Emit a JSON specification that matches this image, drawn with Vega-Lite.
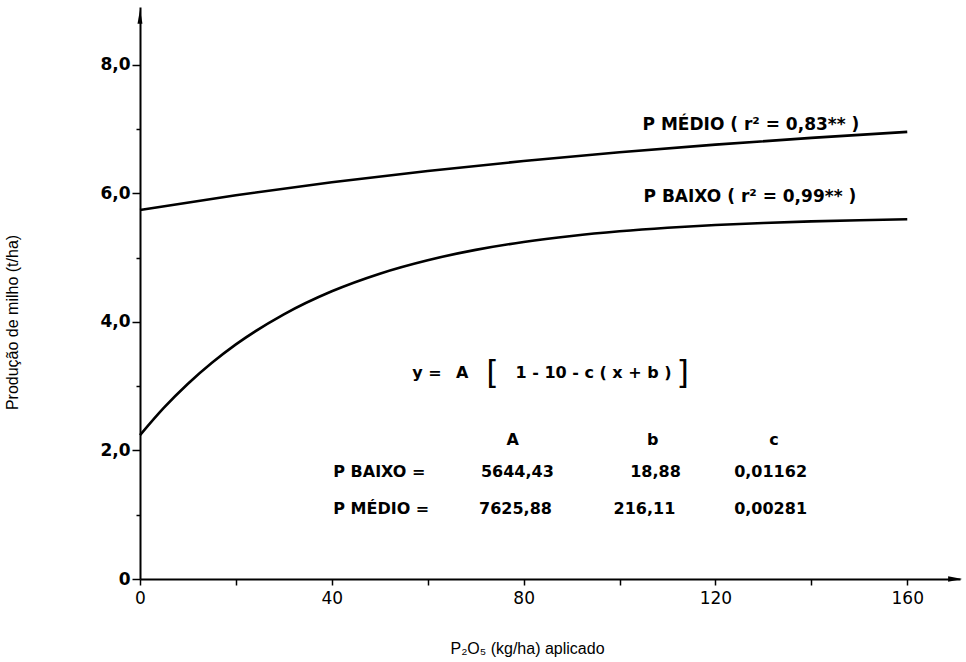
{
  "$schema": "https://vega.github.io/schema/vega-lite/v6.json",
  "autosize": "none",
  "width": 820,
  "height": 572,
  "padding": {"left": 140, "top": 7, "right": 6, "bottom": 83},
  "background": "white",
  "config": {"view": {"stroke": null}, "font": "DejaVu Sans"},
  "datasets": {
    "curves": [
      {"serie": "P BAIXO", "x": 0, "y": 2.238},
      {"serie": "P BAIXO", "x": 5, "y": 2.665},
      {"serie": "P BAIXO", "x": 10, "y": 3.038},
      {"serie": "P BAIXO", "x": 15, "y": 3.364},
      {"serie": "P BAIXO", "x": 20, "y": 3.650},
      {"serie": "P BAIXO", "x": 30, "y": 4.118},
      {"serie": "P BAIXO", "x": 40, "y": 4.477},
      {"serie": "P BAIXO", "x": 50, "y": 4.751},
      {"serie": "P BAIXO", "x": 60, "y": 4.960},
      {"serie": "P BAIXO", "x": 70, "y": 5.121},
      {"serie": "P BAIXO", "x": 80, "y": 5.244},
      {"serie": "P BAIXO", "x": 90, "y": 5.338},
      {"serie": "P BAIXO", "x": 100, "y": 5.410},
      {"serie": "P BAIXO", "x": 110, "y": 5.465},
      {"serie": "P BAIXO", "x": 120, "y": 5.507},
      {"serie": "P BAIXO", "x": 130, "y": 5.539},
      {"serie": "P BAIXO", "x": 140, "y": 5.564},
      {"serie": "P BAIXO", "x": 150, "y": 5.583},
      {"serie": "P BAIXO", "x": 160, "y": 5.597},
      {"serie": "P MÉDIO", "x": 0, "y": 5.742},
      {"serie": "P MÉDIO", "x": 20, "y": 5.971},
      {"serie": "P MÉDIO", "x": 40, "y": 6.172},
      {"serie": "P MÉDIO", "x": 60, "y": 6.348},
      {"serie": "P MÉDIO", "x": 80, "y": 6.503},
      {"serie": "P MÉDIO", "x": 100, "y": 6.639},
      {"serie": "P MÉDIO", "x": 120, "y": 6.759},
      {"serie": "P MÉDIO", "x": 140, "y": 6.864},
      {"serie": "P MÉDIO", "x": 160, "y": 6.957}
    ],
    "arrows": [
      {"x": 170, "y": 0, "dir": "right"},
      {"x": 0, "y": 8.75, "dir": "up"}
    ],
    "curveLabels": [
      {"x": 104.8, "y": 7.06, "t": "P  MÉDIO ( r² = 0,83** )"},
      {"x": 105.0, "y": 5.94, "t": "P  BAIXO ( r² = 0,99** )"}
    ],
    "leftText": [
      {"x": 56.8, "y": 3.21, "t": "y ="},
      {"x": 78.3, "y": 3.21, "t": "1 - 10 - c ( x + b )"},
      {"x": 40.3, "y": 1.66, "t": "P  BAIXO ="},
      {"x": 40.3, "y": 1.09, "t": "P  MÉDIO ="}
    ],
    "centerText": [
      {"x": 67.2, "y": 3.21, "t": "A"},
      {"x": 77.7, "y": 2.16, "t": "A"},
      {"x": 106.9, "y": 2.16, "t": "b"},
      {"x": 132.2, "y": 2.16, "t": "c"},
      {"x": 78.7, "y": 1.66, "t": "5644,43"},
      {"x": 107.5, "y": 1.66, "t": "18,88"},
      {"x": 131.5, "y": 1.66, "t": "0,01162"},
      {"x": 78.3, "y": 1.09, "t": "7625,88"},
      {"x": 105.2, "y": 1.09, "t": "216,11"},
      {"x": 131.5, "y": 1.09, "t": "0,00281"}
    ],
    "brackets": [
      {"x": 73.5, "y": 3.21, "t": "["},
      {"x": 113.2, "y": 3.21, "t": "]"}
    ]
  },
  "layer": [
    {
      "data": {"name": "curves"},
      "mark": {"type": "line", "interpolate": "monotone", "color": "black", "strokeWidth": 2.6},
      "encoding": {
        "x": {
          "field": "x", "type": "quantitative",
          "scale": {"domain": [0, 171], "nice": false, "zero": false},
          "axis": {
            "values": [0, 20, 40, 60, 80, 100, 120, 140, 160],
            "labelExpr": "datum.value % 40 == 0 ? datum.label : ''",
            "grid": false,
            "domainColor": "black", "domainWidth": 2,
            "tickColor": "black", "tickWidth": 1.5, "tickSize": 6,
            "labelFont": "DejaVu Sans", "labelFontSize": 17, "labelColor": "black",
            "labelPadding": 5, "labelFlush": false,
            "title": "P₂O₅ (kg/ha) aplicado",
            "titleFont": "Liberation Sans", "titleFontSize": 16, "titleFontWeight": "normal", "titleColor": "black",
            "titleX": 387, "titleY": 69, "titleBaseline": "middle", "titleAnchor": null, "titleAlign": "center"
          }
        },
        "y": {
          "field": "y", "type": "quantitative",
          "scale": {"domain": [0, 8.9], "nice": false, "zero": false},
          "axis": {
            "values": [0, 1, 2, 3, 4, 5, 6, 7, 8],
            "labelExpr": "datum.value == 0 ? '0' : (datum.value % 2 == 0 ? replace(format(datum.value, '.1f'), '.', ',') : '')",
            "grid": false,
            "domainColor": "black", "domainWidth": 2,
            "tickColor": "black", "tickWidth": 1.5,
            "tickSize": {"condition": {"test": "datum.value % 2 == 0", "value": 8}, "value": 4},
            "labelFont": "DejaVu Sans", "labelFontSize": 17, "labelFontWeight": "bold", "labelColor": "black",
            "labelPadding": 2, "labelFlush": false,
            "title": "Produção de milho (t/ha)",
            "titleFont": "Liberation Sans", "titleFontSize": 16, "titleFontWeight": "normal", "titleColor": "black",
            "titleX": -128, "titleY": 315, "titleAngle": -90, "titleBaseline": "middle", "titleAlign": "center", "titleAnchor": null
          }
        },
        "detail": {"field": "serie"}
      }
    },
    {
      "data": {"name": "arrows"},
      "mark": {"type": "point", "filled": true, "color": "black", "opacity": 1, "size": 200},
      "encoding": {
        "x": {"field": "x", "type": "quantitative"},
        "y": {"field": "y", "type": "quantitative"},
        "shape": {
          "field": "dir", "type": "nominal", "legend": null,
          "scale": {"domain": ["right", "up"], "range": ["M1,0L-1,-0.4L-1,0.4Z", "M0,-1L-0.35,1L0.35,1Z"]}
        }
      }
    },
    {
      "data": {"name": "curveLabels"},
      "mark": {"type": "text", "align": "left", "baseline": "middle", "font": "DejaVu Sans", "fontSize": 17, "fontWeight": "bold", "color": "black"},
      "encoding": {
        "x": {"field": "x", "type": "quantitative"},
        "y": {"field": "y", "type": "quantitative"},
        "text": {"field": "t"}
      }
    },
    {
      "data": {"name": "leftText"},
      "mark": {"type": "text", "align": "left", "baseline": "middle", "font": "DejaVu Sans", "fontSize": 16, "fontWeight": "bold", "color": "black"},
      "encoding": {
        "x": {"field": "x", "type": "quantitative"},
        "y": {"field": "y", "type": "quantitative"},
        "text": {"field": "t"}
      }
    },
    {
      "data": {"name": "centerText"},
      "mark": {"type": "text", "align": "center", "baseline": "middle", "font": "DejaVu Sans", "fontSize": 16, "fontWeight": "bold", "color": "black"},
      "encoding": {
        "x": {"field": "x", "type": "quantitative"},
        "y": {"field": "y", "type": "quantitative"},
        "text": {"field": "t"}
      }
    },
    {
      "data": {"name": "brackets"},
      "mark": {"type": "text", "align": "center", "baseline": "middle", "font": "DejaVu Sans", "fontSize": 32, "fontWeight": "normal", "color": "black"},
      "encoding": {
        "x": {"field": "x", "type": "quantitative"},
        "y": {"field": "y", "type": "quantitative"},
        "text": {"field": "t"}
      }
    }
  ]
}
